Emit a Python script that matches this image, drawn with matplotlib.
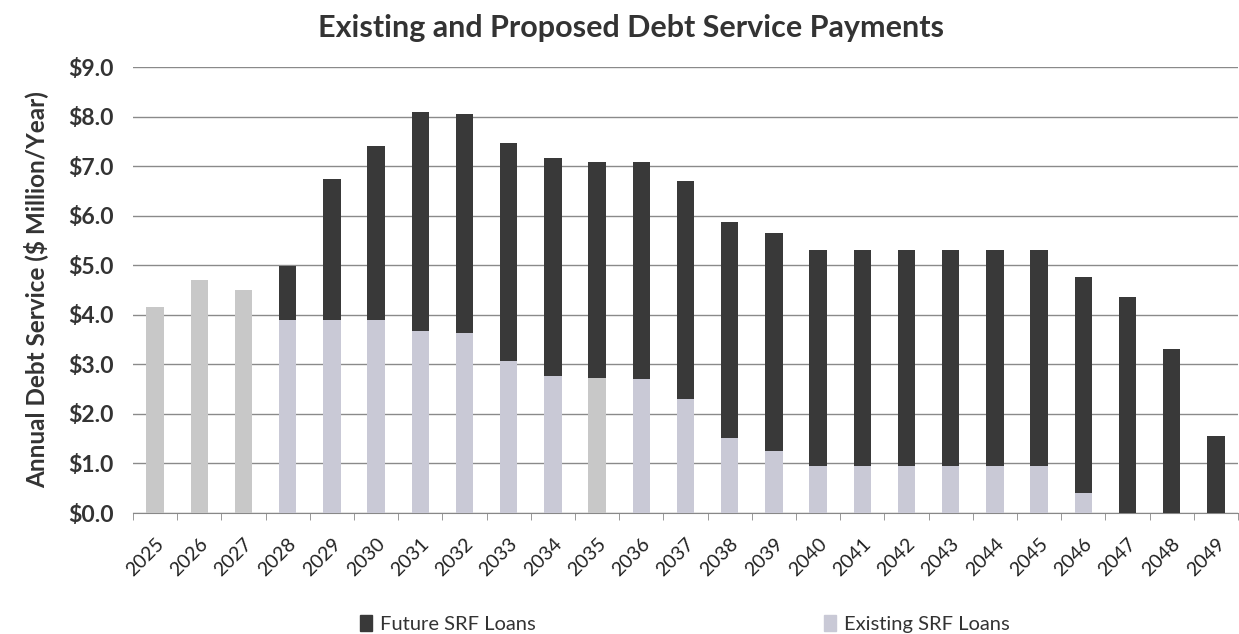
import numpy as np
import matplotlib
matplotlib.use('Agg')
import matplotlib.pyplot as plt
from matplotlib.patches import Patch

plt.rcParams['font.family'] = ['Lato', 'DejaVu Sans']

years = [str(y) for y in range(2025, 2050)]
existing = [4.16, 4.71, 4.50, 3.90, 3.90, 3.90, 3.68, 3.64, 3.07, 2.77,
            2.72, 2.70, 2.31, 1.51, 1.26, 0.95, 0.95, 0.95, 0.95, 0.95,
            0.95, 0.40, 0.0, 0.0, 0.0]
total = [4.16, 4.71, 4.50, 4.99, 6.75, 7.41, 8.09, 8.05, 7.47, 7.16,
         7.09, 7.09, 6.69, 5.88, 5.65, 5.31, 5.31, 5.31, 5.31, 5.31,
         5.31, 4.77, 4.36, 3.31, 1.55]
future = [round(t - e, 2) for t, e in zip(total, existing)]

dark = '#393939'
light = '#c9c9d6'
old_gray = '#c8c8c8'

x = np.arange(len(years))
fig = plt.figure(figsize=(12.39, 6.34), dpi=100)
ax = fig.add_axes([133 / 1239, 1 - 513 / 634, 1105 / 1239, 446 / 634])

ex_colors = [old_gray if i < 3 or years[i] == '2035' else light for i in range(len(years))]
ax.bar(x, existing, width=0.39, color=ex_colors, zorder=3)
ax.bar(x, future, width=0.39, bottom=existing, color=dark, zorder=3)

ax.set_xlim(-0.5, len(years) - 0.5)
ax.set_ylim(0, 9)
ax.set_yticks(np.arange(0, 10, 1))
ax.set_yticklabels(['$%.1f' % v for v in range(10)], fontsize=16.5, fontweight='bold', color='#333333')
ax.yaxis.grid(True, color='#8a8a8a', linewidth=1.0, zorder=0)
ax.tick_params(axis='y', length=0, pad=14)

ax.set_xticks(x)
ax.set_xticklabels(years, rotation=45, fontsize=14, color='#222222',
                   ha='right', rotation_mode='anchor')
ax.set_xticks(np.arange(-0.5, len(years), 1), minor=True)
ax.tick_params(axis='x', which='major', length=0, pad=16)
ax.tick_params(axis='x', which='minor', length=5, color='#888888')

for s in ['top', 'right', 'left']:
    ax.spines[s].set_visible(False)
ax.spines['bottom'].set_color('#888888')

ax.set_ylabel('Annual Debt Service ($ Million/Year)', fontsize=17.5, fontweight='bold',
              color='#333333', labelpad=14)
fig.suptitle('Existing and Proposed Debt Service Payments', x=0.509, y=0.978,
             fontsize=22, fontweight='bold', color='#333333')

handles = [Patch(color=dark, label='Future SRF Loans'),
           Patch(color=light, label='Existing SRF Loans')]
fig.legend(handles=handles, loc='lower center', bbox_to_anchor=(0.553, -0.027), ncol=2,
           frameon=False, fontsize=14.5, handlelength=0.6, handleheight=0.9,
           handletextpad=0.4, columnspacing=14.3, labelcolor='#333333')

fig.savefig('out.png', dpi=100)
